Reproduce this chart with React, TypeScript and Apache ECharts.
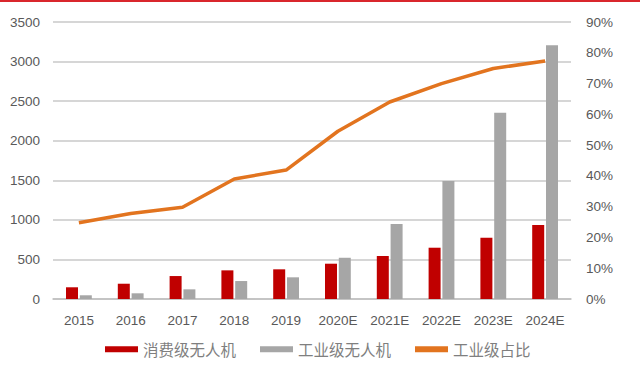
import React, { useEffect, useRef } from "react";
import * as echarts from "echarts";

const categories = ["2015", "2016", "2017", "2018", "2019", "2020E", "2021E", "2022E", "2023E", "2024E"];
const consumer = [148, 193, 290, 362, 375, 446, 543, 648, 774, 934];
const industrial = [47, 72, 122, 227, 274, 521, 947, 1490, 2352, 3207];
const industrialShare = [24.8, 27.8, 29.8, 39.0, 41.9, 54.5, 64.0, 70.0, 74.9, 77.3];
const seriesNames = ["消费级无人机", "工业级无人机", "工业级占比"];

export default function App() {
  const ref = useRef<HTMLDivElement>(null);
  useEffect(() => {
    if (!ref.current) return;
    const chart = echarts.init(ref.current, undefined, { renderer: "svg" });
    const axisFont = { color: "#595959", fontSize: 13.5, fontFamily: "Liberation Sans" };
    chart.setOption({
      animation: false,
      backgroundColor: "#ffffff",
      graphic: [
        { type: "line", shape: { x1: 0, y1: 1, x2: 640, y2: 1 }, style: { stroke: "#d9262c", lineWidth: 2 } },
      ],
      grid: { left: 53, right: 69, top: 22, bottom: 70 },
      legend: {
        bottom: 7,
        left: 100,
        itemWidth: 33,
        itemHeight: 6,
        itemGap: 24,
        icon: "rect",
        textStyle: { color: "#7f7f7f", fontSize: 15.5, fontFamily: "Noto Sans CJK SC" },
        data: seriesNames,
      },
      xAxis: {
        type: "category",
        data: categories,
        axisTick: { show: false },
        axisLine: { lineStyle: { color: "#bfbfbf", width: 1.5 } },
        axisLabel: { ...axisFont, margin: 14, interval: 0 },
      },
      yAxis: [
        {
          type: "value",
          min: 0,
          max: 3500,
          interval: 500,
          axisLabel: { ...axisFont, margin: 13, formatter: (v: number) => String(v) },
          axisLine: { show: false },
          axisTick: { show: false },
          splitLine: { lineStyle: { color: "#c8c8c8", width: 1.5 } },
        },
        {
          type: "value",
          min: 0,
          max: 90,
          interval: 10,
          axisLabel: { ...axisFont, margin: 15, formatter: "{value}%" },
          axisLine: { show: false },
          axisTick: { show: false },
          splitLine: { show: false },
        },
      ],
      series: [
        {
          name: seriesNames[0],
          type: "bar",
          data: consumer,
          barWidth: 12,
          barGap: "15%",
          itemStyle: { color: "#c00000" },
        },
        {
          name: seriesNames[1],
          type: "bar",
          data: industrial,
          barWidth: 12,
          barGap: "15%",
          itemStyle: { color: "#a6a6a6" },
        },
        {
          name: seriesNames[2],
          type: "line",
          yAxisIndex: 1,
          data: industrialShare,
          symbol: "none",
          lineStyle: { color: "#e2741f", width: 3.5 },
          itemStyle: { color: "#e2741f" },
        },
      ],
    });
    return () => chart.dispose();
  }, []);
  return <div ref={ref} style={{ width: 640, height: 369, position: "absolute", left: 0, top: 0 }} />;
}
